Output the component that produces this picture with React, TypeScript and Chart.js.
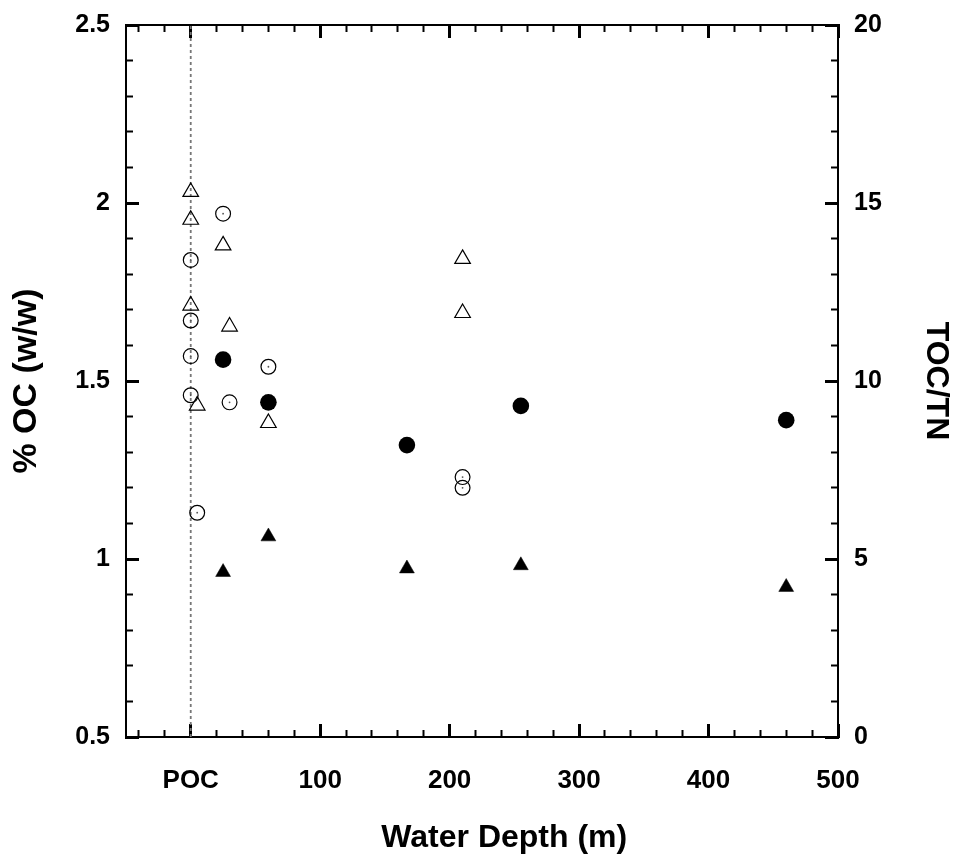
import React, { useEffect, useRef } from 'react';
import { Chart, registerables } from 'chart.js';

Chart.register(...registerables);

// ---- Data ----
// Open circles: % OC (left axis)
const depthOpenCircle = [0, 0, 0, 0, 5, 25, 30, 60, 210, 210];
const ocOpenCircle = [1.84, 1.67, 1.57, 1.46, 1.13, 1.97, 1.44, 1.54, 1.23, 1.2];
// Filled circles: % OC (left axis)
const depthFilledCircle = [25, 60, 167, 255, 460];
const ocFilledCircle = [1.56, 1.44, 1.32, 1.43, 1.39];
// Open triangles: TOC/TN (right axis)
const depthOpenTriangle = [0, 0, 25, 0, 30, 5, 60, 210, 210];
const ratioOpenTriangle = [15.31, 14.53, 13.81, 12.12, 11.53, 9.31, 8.82, 13.43, 11.91];
// Filled triangles: TOC/TN (right axis)
const depthFilledTriangle = [25, 60, 167, 255, 460];
const ratioFilledTriangle = [4.63, 5.63, 4.73, 4.82, 4.21];
// Dotted POC reference line
const pocLineDepth = [0, 0];
const pocLineOc = [0.5, 2.5];

// ---- Axes ----
const xMajorTicks = [0, 100, 200, 300, 400, 500];
const xTickLabels = ['POC', '100', '200', '300', '400', '500'];
const xMinorTicks = [-40, -20, 0, 20, 40, 60, 80, 100, 120, 140, 160, 180, 200, 220, 240, 260, 280, 300, 320, 340, 360, 380, 400, 420, 440, 460, 480, 500];
const ocMajorTicks = [0.5, 1, 1.5, 2, 2.5];
const ocTickLabels = ['0.5', '1', '1.5', '2', '2.5'];
const ocMinorTicks = [0.5, 0.6, 0.7, 0.8, 0.9, 1, 1.1, 1.2, 1.3, 1.4, 1.5, 1.6, 1.7, 1.8, 1.9, 2, 2.1, 2.2, 2.3, 2.4, 2.5];
const ratioMajorTicks = [0, 5, 10, 15, 20];
const ratioTickLabels = ['0', '5', '10', '15', '20'];
const ratioMinorTicks = [0, 1, 2, 3, 4, 5, 6, 7, 8, 9, 10, 11, 12, 13, 14, 15, 16, 17, 18, 19, 20];

const X_MIN = -50;
const X_MAX = 500;
const OC_MIN = 0.5;
const OC_MAX = 2.5;
const RATIO_MIN = 0;
const RATIO_MAX = 20;

const FONT = "'Liberation Sans', Arial, Helvetica, sans-serif";
const xTickFont = { family: FONT, size: 26, weight: 'bold' as const };
const yTickFont = { family: FONT, size: 25, weight: 'bold' as const };
const titleFont = { family: FONT, size: 32, weight: 'bold' as const };
const leftTitleFont = { family: FONT, size: 34, weight: 'bold' as const };

const pts = (xs: number[], ys: number[]) => xs.map((x, i) => ({ x, y: ys[i] }));
const setTicks = (values: number[]) => (scale: any) => {
  scale.ticks = values.map((v) => ({ value: v }));
};
const fixSize = (horizontal: boolean, size: number) => (s: any) => {
  if (horizontal) s.height = size;
  else s.width = size;
  s.paddingTop = 0;
  s.paddingBottom = 0;
  s.paddingLeft = 0;
  s.paddingRight = 0;
};

function minorAxis(position: string, min: number, max: number, values: number[], horizontal: boolean) {
  return {
    type: 'linear',
    position,
    min,
    max,
    weight: 0,
    afterBuildTicks: setTicks(values),
    afterFit: fixSize(horizontal, 0),
    ticks: { display: false, autoSkip: false },
    grid: { drawOnChartArea: false, drawTicks: true, tickLength: -7, tickWidth: 2, tickColor: '#000' },
    border: { display: false },
  };
}

const majorGrid = { drawOnChartArea: false, drawTicks: true, tickLength: -13, tickWidth: 3, tickColor: '#000' };
const frameBorder = { display: true, color: '#000', width: 2 };

export default function App() {
  const canvasRef = useRef<HTMLCanvasElement | null>(null);

  useEffect(() => {
    if (!canvasRef.current) return;

    const chart = new Chart(canvasRef.current, {
      type: 'scatter',
      data: {
        datasets: [
          {
            label: 'centre dots',
            data: pts(depthOpenCircle, ocOpenCircle),
            xAxisID: 'x',
            yAxisID: 'y',
            pointStyle: 'circle',
            pointRadius: 0.9,
            pointBackgroundColor: '#555',
            pointBorderWidth: 0,
          },
          {
            label: 'open circles',
            data: pts(depthOpenCircle, ocOpenCircle),
            xAxisID: 'x',
            yAxisID: 'y',
            pointStyle: 'circle',
            pointRadius: 7.4,
            pointBackgroundColor: 'rgba(0,0,0,0)',
            pointBorderColor: '#000',
            pointBorderWidth: 1.2,
          },
          {
            label: 'filled circles',
            data: pts(depthFilledCircle, ocFilledCircle),
            xAxisID: 'x',
            yAxisID: 'y',
            pointStyle: 'circle',
            pointRadius: 8.3,
            pointBackgroundColor: '#000',
            pointBorderWidth: 0,
          },
          {
            label: 'open triangles',
            data: pts(depthOpenTriangle, ratioOpenTriangle),
            xAxisID: 'x',
            yAxisID: 'y2',
            pointStyle: 'triangle',
            pointRadius: 9,
            pointBackgroundColor: 'rgba(0,0,0,0)',
            pointBorderColor: '#000',
            pointBorderWidth: 1.2,
          },
          {
            label: 'filled triangles',
            data: pts(depthFilledTriangle, ratioFilledTriangle),
            xAxisID: 'x',
            yAxisID: 'y2',
            pointStyle: 'triangle',
            pointRadius: 8.6,
            pointBackgroundColor: '#000',
            pointBorderColor: '#000',
            pointBorderWidth: 0.5,
          },
          {
            label: 'POC line',
            data: pts(pocLineDepth, pocLineOc),
            xAxisID: 'x',
            yAxisID: 'y',
            showLine: true,
            borderColor: '#777',
            borderWidth: 1.8,
            borderDash: [3, 3],
            pointRadius: 0,
          },
        ] as any,
      },
      options: {
        responsive: false,
        devicePixelRatio: 1,
        animation: false,
        layout: { padding: 0 },
        plugins: { legend: { display: false }, tooltip: { enabled: false } },
        scales: {
          xMinor: minorAxis('bottom', X_MIN, X_MAX, xMinorTicks, true),
          x: {
            type: 'linear',
            position: 'bottom',
            min: X_MIN,
            max: X_MAX,
            weight: 1,
            afterBuildTicks: setTicks(xMajorTicks),
            afterFit: fixSize(true, 118),
            ticks: {
              autoSkip: false,
              maxRotation: 0,
              padding: 41,
              color: '#000',
              font: xTickFont,
              callback: (_v: any, i: number) => xTickLabels[i],
            },
            grid: majorGrid,
            border: frameBorder,
            title: {
              display: true,
              text: '     Water Depth (m)',
              color: '#000',
              font: titleFont,
              padding: { top: 0, bottom: -2 },
            },
          },
          xTopMinor: minorAxis('top', X_MIN, X_MAX, xMinorTicks, true),
          xTop: {
            type: 'linear',
            position: 'top',
            min: X_MIN,
            max: X_MAX,
            weight: 1,
            afterBuildTicks: setTicks(xMajorTicks),
            afterFit: fixSize(true, 25),
            ticks: { display: false, autoSkip: false },
            grid: majorGrid,
            border: frameBorder,
          },
          yMinor: minorAxis('left', OC_MIN, OC_MAX, ocMinorTicks, false),
          y: {
            type: 'linear',
            position: 'left',
            min: OC_MIN,
            max: OC_MAX,
            weight: 1,
            afterBuildTicks: setTicks(ocMajorTicks),
            afterFit: fixSize(false, 126),
            ticks: {
              autoSkip: false,
              padding: 29,
              color: '#000',
              font: yTickFont,
              callback: (_v: any, i: number) => ocTickLabels[i],
            },
            grid: majorGrid,
            border: frameBorder,
            title: {
              display: true,
              text: '% OC (w/w)',
              color: '#000',
              font: leftTitleFont,
              padding: { top: 6, bottom: 0 },
            },
          },
          y2Minor: minorAxis('right', RATIO_MIN, RATIO_MAX, ratioMinorTicks, false),
          y2: {
            type: 'linear',
            position: 'right',
            min: RATIO_MIN,
            max: RATIO_MAX,
            weight: 1,
            afterBuildTicks: setTicks(ratioMajorTicks),
            afterFit: fixSize(false, 120),
            ticks: {
              autoSkip: false,
              padding: 29,
              color: '#000',
              font: yTickFont,
              callback: (_v: any, i: number) => ratioTickLabels[i],
            },
            grid: majorGrid,
            border: frameBorder,
            title: {
              display: true,
              text: 'TOC/TN',
              color: '#000',
              font: titleFont,
              padding: { top: 3, bottom: 0 },
            },
          },
        } as any,
      },
    });

    return () => {
      chart.destroy();
    };
  }, []);

  return (
    <div style={{ position: 'fixed', left: 0, top: 0, width: 958, height: 855, background: '#fff' }}>
      <canvas ref={canvasRef} width={958} height={855} style={{ display: 'block' }} />
    </div>
  );
}
